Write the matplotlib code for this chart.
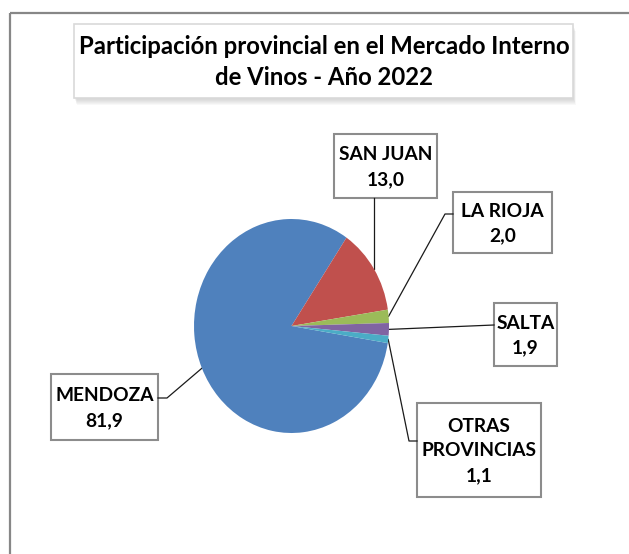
import matplotlib.pyplot as plt
from matplotlib.patches import Rectangle
import numpy as np

provincias = ['MENDOZA', 'SAN JUAN', 'LA RIOJA', 'SALTA', 'OTRAS\nPROVINCIAS']
participacion = [81.9, 13.0, 2.0, 1.9, 1.1]
colores = ['#4F81BD', '#C0504D', '#9BBB59', '#8064A2', '#4BACC6']
titulo = 'Participación provincial en el Mercado Interno\nde Vinos - Año 2022'

plt.rcParams['font.family'] = ['Lato', 'DejaVu Sans']

W, H = 629, 554
fig = plt.figure(figsize=(W / 100, H / 100), dpi=100)

# background axes in pixel coordinates (y down) for frame, boxes and leader lines
bg = fig.add_axes([0, 0, 1, 1])
bg.set_xlim(0, W)
bg.set_ylim(H, 0)
bg.axis('off')

bg.add_patch(Rectangle((9.5, 12.7), 700, 600, fill=False, ec='#878787', lw=1.6))

# title box with soft shadow
for k in range(1, 8):
    bg.add_patch(Rectangle((74 + k * 0.4, 24 + k), 499, 74, fc='#7f7f7f', ec='none', alpha=0.05))
bg.add_patch(Rectangle((74, 24), 499, 74, fc='white', ec='#d9d9d9', lw=1.2))
bg.text(324, 62, titulo, ha='center', va='center', fontsize=17.2, fontweight='bold',
        linespacing=1.45)

# pie
ax = fig.add_axes([194 / W, 1 - 433 / H, 195 / W, 214 / H])
wedges, _ = ax.pie(participacion, colors=colores, startangle=-9.2, counterclock=False,
                   wedgeprops=dict(linewidth=0))
ax.set_aspect('auto')
ax.set_xlim(-1, 1)
ax.set_ylim(-1, 1)

# label boxes (x0, y0, x1, y1) and leader line points from box to pie
cajas = {
    'MENDOZA': (51, 374, 158, 440),
    'SAN JUAN': (334, 134, 437, 198),
    'LA RIOJA': (453, 192, 552, 253),
    'SALTA': (494, 303, 557, 366),
    'OTRAS\nPROVINCIAS': (417, 403, 541, 497),
}
guias = {
    'MENDOZA': [(158, 398), (167, 398)],
    'SAN JUAN': [(None, 198)],
    'LA RIOJA': [(453, 214), (445, 214)],
    'SALTA': [(494, 325)],
    'OTRAS\nPROVINCIAS': [(417, 441), (409, 441)],
}

inv = bg.transData.inverted()
for w, nombre, valor in zip(wedges, provincias, participacion):
    t = np.deg2rad((w.theta1 + w.theta2) / 2)
    px, py = inv.transform(ax.transData.transform((np.cos(t), np.sin(t))))
    pts = [(px if x is None else x, y) for x, y in guias[nombre]] + [(px, py)]
    xs, ys = zip(*pts)
    bg.plot(xs, ys, color='#1a1a1a', lw=0.9)

    x0, y0, x1, y1 = cajas[nombre]
    bg.add_patch(Rectangle((x0, y0), x1 - x0, y1 - y0, fc='white', ec='#8c8c8c', lw=1.5))
    etiqueta = f'{nombre}\n{valor:.1f}'.replace('.', ',')
    bg.text((x0 + x1) / 2, (y0 + y1) / 2 + 1, etiqueta, ha='center', va='center',
            fontsize=13.8, fontweight='bold', linespacing=1.55)

fig.savefig('out.png', dpi=100)
